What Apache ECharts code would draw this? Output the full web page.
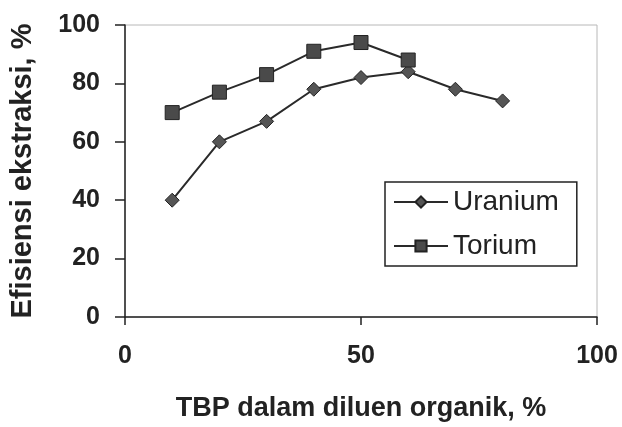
<!DOCTYPE html>
<html>
<head>
<meta charset="utf-8">
<script src="https://cdn.jsdelivr.net/npm/echarts@6/dist/echarts.min.js"></script>
<style>
  html, body { margin: 0; padding: 0; background: #fff; }
  #chart { width: 622px; height: 427px; }
</style>
</head>
<body>
<div id="chart"></div>
<script>
// TBP concentration (%) and extraction efficiency (%)
const tbpUranium = [10, 20, 30, 40, 50, 60, 70, 80];
const uranium = [40, 60, 67, 78, 82, 84, 78, 74];
const tbpTorium = [10, 20, 30, 40, 50, 60];
const torium = [70, 77, 83, 91, 94, 88];

const chart = echarts.init(document.getElementById('chart'));

const font = 'Liberation Sans, Arial, sans-serif';

chart.setOption({
    animation: false,
    grid: {
        left: 125,
        right: 25,
        top: 25,
        bottom: 109,
        show: true,
        borderColor: '#b8b8b8',
        borderWidth: 1
    },
    legend: {
        left: 385,
        top: 182,
        orient: 'vertical',
        itemWidth: 54,
        itemHeight: 14,
        itemGap: 16,
        padding: [6, 18, 6, 8],
        borderColor: '#222',
        borderWidth: 1.5,
        textStyle: {
            fontFamily: font,
            fontSize: 28,
            color: '#222'
        },
        data: ['Uranium', 'Torium']
    },
    xAxis: {
        type: 'value',
        min: 0,
        max: 100,
        interval: 50,
        name: 'TBP dalam diluen organik, %',
        nameLocation: 'middle',
        nameGap: 78,
        nameTextStyle: {
            fontFamily: font,
            fontSize: 27,
            fontWeight: 'bold',
            color: '#222'
        },
        axisLine: { lineStyle: { color: '#222', width: 1.5 } },
        axisTick: { show: true, length: 8, lineStyle: { color: '#222', width: 1.5 } },
        axisLabel: {
            fontFamily: font,
            fontSize: 25,
            fontWeight: 'bold',
            color: '#222',
            margin: 27
        },
        splitLine: { show: false }
    },
    yAxis: {
        type: 'value',
        min: 0,
        max: 100,
        interval: 20,
        name: 'Efisiensi ekstraksi, %',
        nameLocation: 'middle',
        nameGap: 88,
        nameTextStyle: {
            fontFamily: font,
            fontSize: 29,
            fontWeight: 'bold',
            color: '#222'
        },
        axisLine: { show: true, lineStyle: { color: '#222', width: 1.5 } },
        axisTick: { show: true, length: 10, lineStyle: { color: '#222', width: 1.5 } },
        axisLabel: {
            fontFamily: font,
            fontSize: 25,
            fontWeight: 'bold',
            color: '#222',
            margin: 25
        },
        splitLine: { show: false }
    },
    series: [
        {
            name: 'Uranium',
            type: 'line',
            data: tbpUranium.map((x, i) => [x, uranium[i]]),
            symbol: 'diamond',
            symbolSize: 14,
            lineStyle: { color: '#2a2a2a', width: 2 },
            itemStyle: { color: '#555', borderColor: '#222', borderWidth: 1 }
        },
        {
            name: 'Torium',
            type: 'line',
            data: tbpTorium.map((x, i) => [x, torium[i]]),
            symbol: 'rect',
            symbolSize: 14,
            lineStyle: { color: '#2a2a2a', width: 2 },
            itemStyle: { color: '#4a4a4a', borderColor: '#222', borderWidth: 1 }
        }
    ]
});
</script>
</body>
</html>
